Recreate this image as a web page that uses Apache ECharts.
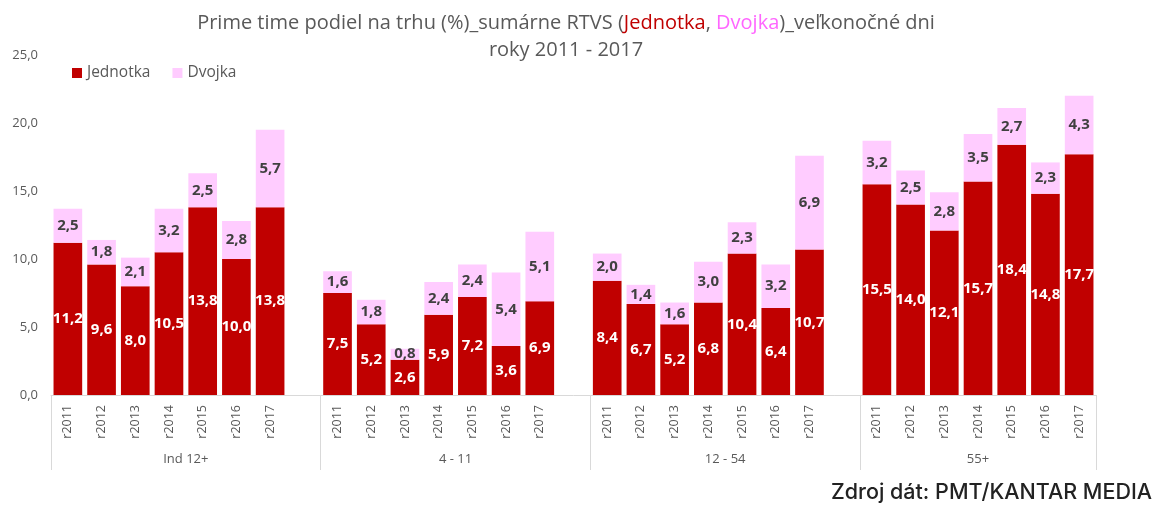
<!DOCTYPE html>
<html>
<head>
<meta charset="utf-8">
<script src="https://cdn.jsdelivr.net/npm/echarts@6/dist/echarts.min.js"></script>
<style>
  html, body { margin: 0; padding: 0; background: #fff; }
  #chart { width: 1159px; height: 510px; }
</style>
</head>
<body>
<div id="chart"></div>
<script>
var years = ['r2011', 'r2012', 'r2013', 'r2014', 'r2015', 'r2016', 'r2017'];
var groups = ['Ind 12+', '4 - 11', '12 - 54', '55+'];

// Jednotka / Dvojka podla skupin
var jednotka = [
    [11.2, 9.6, 8.0, 10.5, 13.8, 10.0, 13.8],
    [7.5, 5.2, 2.6, 5.9, 7.2, 3.6, 6.9],
    [8.4, 6.7, 5.2, 6.8, 10.4, 6.4, 10.7],
    [15.5, 14.0, 12.1, 15.7, 18.4, 14.8, 17.7]
];
var dvojka = [
    [2.5, 1.8, 2.1, 3.2, 2.5, 2.8, 5.7],
    [1.6, 1.8, 0.8, 2.4, 2.4, 5.4, 5.1],
    [2.0, 1.4, 1.6, 3.0, 2.3, 3.2, 6.9],
    [3.2, 2.5, 2.8, 3.5, 2.7, 2.3, 4.3]
];

var yTicks = [0, 5, 10, 15, 20, 25];

// skladanie kategorii s medzerou medzi skupinami
var cats = [], dataJ = [], dataD = [], bounds = [0], centers = [];
for (var g = 0; g < groups.length; g++) {
    var start = cats.length;
    for (var i = 0; i < years.length; i++) {
        cats.push(years[i]);
        dataJ.push(jednotka[g][i]);
        dataD.push(dvojka[g][i]);
    }
    if (g < groups.length - 1) {
        cats.push('');
        dataJ.push('-');
        dataD.push('-');
    }
    bounds.push(cats.length);
    centers.push((start + cats.length) / 2);
}

var fmt = function (v) {
    return Number(v).toFixed(1).replace('.', ',');
};

var font = '"Open Sans", sans-serif';
var chart = echarts.init(document.getElementById('chart'));
var option = {
    animation: false,
    title: [{
        text: '{g|Prime time podiel na trhu (%)_sumárne RTVS (}{r|Jednotka}{g|, }{p|Dvojka}{g|)_veľkonočné dni}\n{g|roky 2011 - 2017}',
        left: 561,
        top: 5,
        textAlign: 'center',
        textStyle: {
            fontFamily: font,
            fontWeight: 'normal',
            lineHeight: 27,
            rich: {
                g: { color: '#595959', fontSize: 20, fontFamily: font, lineHeight: 27 },
                r: { color: '#C00000', fontSize: 20, fontFamily: font, lineHeight: 27 },
                p: { color: '#FF66FF', fontSize: 20, fontFamily: font, lineHeight: 27 }
            }
        }
    }, {
        text: 'Zdroj dát: PMT/KANTAR MEDIA',
        right: 2,
        bottom: 1,
        textStyle: {
            fontFamily: 'Inter, sans-serif',
            fontWeight: 500,
            fontSize: 21.5,
            color: '#222222'
        }
    }],
    legend: {
        left: 67,
        top: 60,
        icon: 'rect',
        itemWidth: 10,
        itemHeight: 10,
        itemGap: 22,
        textStyle: { color: '#595959', fontSize: 15.5, fontFamily: font },
        data: ['Jednotka', 'Dvojka']
    },
    grid: {
        left: 51,
        right: 63,
        top: 55,
        bottom: 115
    },
    xAxis: [{
        type: 'category',
        data: cats,
        axisLine: { lineStyle: { color: '#d9d9d9' } },
        axisTick: { show: false },
        axisLabel: {
            rotate: 90,
            interval: 0,
            margin: 10,
            color: '#595959',
            fontSize: 12.5,
            fontFamily: font
        }
    }, {
        type: 'value',
        position: 'bottom',
        min: 0,
        max: cats.length,
        axisLine: { show: false },
        splitLine: { show: false },
        axisTick: {
            show: true,
            length: 75,
            customValues: bounds,
            lineStyle: { color: '#d9d9d9' }
        },
        axisLabel: {
            customValues: centers,
            margin: 58,
            color: '#595959',
            fontSize: 13,
            fontFamily: font,
            formatter: function (v) {
                var k = centers.indexOf(v);
                return k >= 0 ? groups[k] : '';
            }
        }
    }],
    yAxis: {
        type: 'value',
        min: yTicks[0],
        max: yTicks[yTicks.length - 1],
        interval: 5,
        splitLine: { show: false },
        axisLine: { show: false },
        axisTick: { show: false },
        axisLabel: {
            margin: 13,
            color: '#595959',
            fontSize: 13,
            fontFamily: font,
            formatter: fmt
        }
    },
    series: [{
        name: 'Jednotka',
        type: 'bar',
        stack: 'spolu',
        xAxisIndex: 0,
        barCategoryGap: '15%',
        data: dataJ,
        itemStyle: { color: '#C00000' },
        label: {
            show: true,
            position: 'inside',
            color: '#ffffff',
            fontWeight: 'bold',
            fontSize: 15,
            fontFamily: font,
            formatter: function (p) { return fmt(p.value); }
        }
    }, {
        name: 'Dvojka',
        type: 'bar',
        stack: 'spolu',
        xAxisIndex: 0,
        barCategoryGap: '15%',
        data: dataD,
        itemStyle: { color: '#FFCCFF' },
        label: {
            show: true,
            position: 'inside',
            color: '#404040',
            fontWeight: 'bold',
            fontSize: 15,
            fontFamily: font,
            formatter: function (p) { return fmt(p.value); }
        }
    }]
};
chart.setOption(option);
</script>
</body>
</html>
